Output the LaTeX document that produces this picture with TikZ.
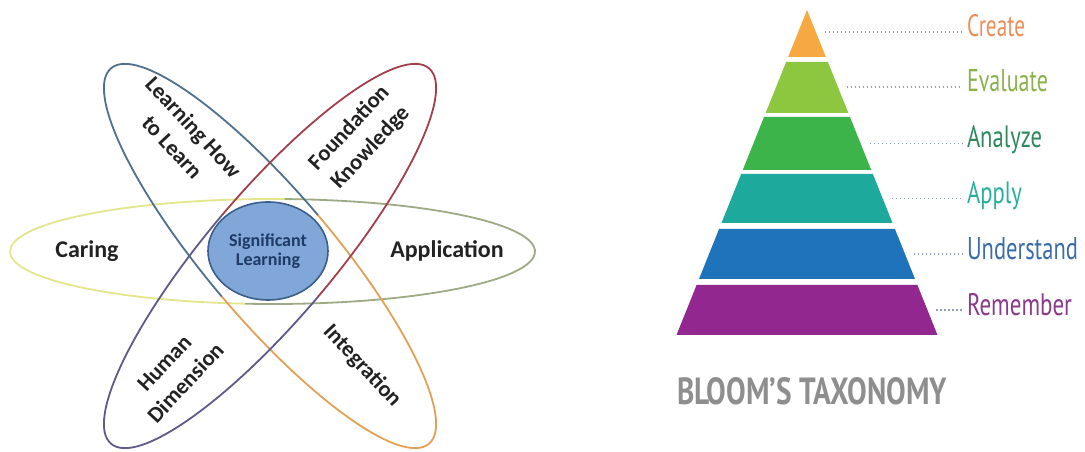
\documentclass[tikz,border=0pt]{standalone}
\usepackage{fontspec}
\usepackage{graphicx}
\setmainfont{Carlito}
\newfontfamily\condfont{PT Sans}
\usetikzlibrary{shapes.geometric}
\definecolor{cLearn}{HTML}{50708F}
\definecolor{cFound}{HTML}{A33F4D}
\definecolor{cCaring}{HTML}{E4E58C}
\definecolor{cAppl}{HTML}{9EA985}
\definecolor{cHuman}{HTML}{5E5A8A}
\definecolor{cInteg}{HTML}{E2A154}
\definecolor{cCenterFill}{HTML}{80A7D8}
\definecolor{cCenterLine}{HTML}{3B5E8C}
\definecolor{cCenterText}{HTML}{1F3A66}
\definecolor{cText}{HTML}{222222}
\definecolor{bCreate}{HTML}{F6A942}
\definecolor{bEval}{HTML}{8DC63F}
\definecolor{bAnal}{HTML}{3CB44A}
\definecolor{bApply}{HTML}{1DAA9C}
\definecolor{bUnd}{HTML}{1E73BA}
\definecolor{bRem}{HTML}{922790}
\definecolor{tCreate}{HTML}{EC8E5A}
\definecolor{tEval}{HTML}{8AB24C}
\definecolor{tAnal}{HTML}{2E8A5C}
\definecolor{tApply}{HTML}{2AAE9E}
\definecolor{tUnd}{HTML}{3A6CAA}
\definecolor{tRem}{HTML}{8B3A8B}
\definecolor{cDots}{HTML}{8E9EB5}
\definecolor{cTitle}{HTML}{8E8E8E}
\tikzset{
  petal/.style={line width=1.8pt},
  lbl/.style={font=\bfseries\fontsize{24}{30}\selectfont, text=cText, align=center, inner sep=0pt},
  rlbl/.style={font=\bfseries\fontsize{22.5}{29}\selectfont, text=cText, align=center, inner sep=0pt},
  blabel/.style={anchor=base west, inner sep=0pt, outer sep=0pt},
  dotline/.style={draw=cDots, line width=1.4pt, dash pattern=on 1.2pt off 2.8pt}
}
\begin{document}
\begin{tikzpicture}[x=1pt,y=1pt]
\useasboundingbox (0,0) rectangle (1085,452);
\fill[white] (0,0) rectangle (1085,452);
% ---- Fink's taxonomy: three two-coloured ellipses ----
\begin{scope}[shift={(272.5,200.5)}]
  \draw[petal, cCaring] (87.3:262.5 and 52.5) arc[start angle=87.3, end angle=264, x radius=262.5, y radius=52.5];
  \draw[petal, cAppl] (264:262.5 and 52.5) arc[start angle=264, end angle=447.3, x radius=262.5, y radius=52.5];
\end{scope}
\begin{scope}[shift={(270,196)}, rotate=-49.75]
  \draw[petal, cLearn] (90:246 and 63) arc[start angle=90, end angle=270, x radius=246, y radius=63];
  \draw[petal, cInteg] (-90:246 and 63) arc[start angle=-90, end angle=90, x radius=246, y radius=63];
\end{scope}
\begin{scope}[shift={(270,196)}, rotate=49.75]
  \draw[petal, cFound] (-90:246 and 63) arc[start angle=-90, end angle=90, x radius=246, y radius=63];
  \draw[petal, cHuman] (90:246 and 63) arc[start angle=90, end angle=270, x radius=246, y radius=63];
\end{scope}
\node[ellipse, draw=cCenterLine, fill=cCenterFill, line width=1.6pt, inner sep=0pt, minimum width=120pt, minimum height=98pt] (center) at (268,201) {};
\node[font=\bfseries\fontsize{18}{19}\selectfont, text=cCenterText, align=center, inner sep=0pt] (centerT) at (268,201) {Significant\\Learning};
\node[lbl] (caringT) at (87,201) {Caring};
\node[lbl] (applT) at (447,201) {Application};
\node[rlbl, rotate=-47] (learnT) at (183,315) {Learning How\\to Learn};
\node[rlbl, rotate=47] (foundT) at (360,314) {Foundation\\Knowledge};
\node[rlbl, rotate=47] (humanT) at (175,79) {Human\\Dimension};
\node[rlbl, rotate=-47] (integT) at (362,86) {Integration};
% ---- Bloom's pyramid ----
\foreach \t/\b/\c in {10/57/bCreate, 62/113/bEval, 117/170/bAnal, 174/223/bApply, 229/279/bUnd, 285/335/bRem}
  \fill[\c] ({807-0.4015*(\t-10)},{452-\t}) -- ({807+0.4015*(\t-10)},{452-\t}) -- ({807+0.4015*(\b-10)},{452-\b}) -- ({807-0.4015*(\b-10)},{452-\b}) -- cycle;
\node[blabel, text=tCreate] (lCreate) at (967,415) {\resizebox{58pt}{22pt}{\condfont Create}};
\node[blabel, text=tEval] (lEval) at (967,360) {\resizebox{81pt}{22pt}{\condfont Evaluate}};
\node[blabel, text=tAnal] (lAnal) at (967,304) {\resizebox{75pt}{22pt}{\condfont Analyze}};
\node[blabel, text=tApply] (lApply) at (967,248) {\resizebox{55pt}{22pt}{\condfont Apply}};
\node[blabel, text=tUnd] (lUnd) at (967,192) {\resizebox{111pt}{22pt}{\condfont Understand}};
\node[blabel, text=tRem] (lRem) at (967,136) {\resizebox{105pt}{22pt}{\condfont Remember}};
\foreach \y/\n in {32/Create, 87/Eval, 143.5/Anal, 198.5/Apply, 254/Und, 310/Rem} {
  \coordinate (d\n) at ({807+0.4015*(\y-10)+9},{452-\y});
  \draw[dotline] (d\n) -- ([xshift=-5pt]d\n -| l\n.west);
}
\node[blabel, text=cTitle] (title) at (677,47) {\resizebox{270pt}{27pt}{\condfont\bfseries BLOOM’S TAXONOMY}};
\end{tikzpicture}
\end{document}
